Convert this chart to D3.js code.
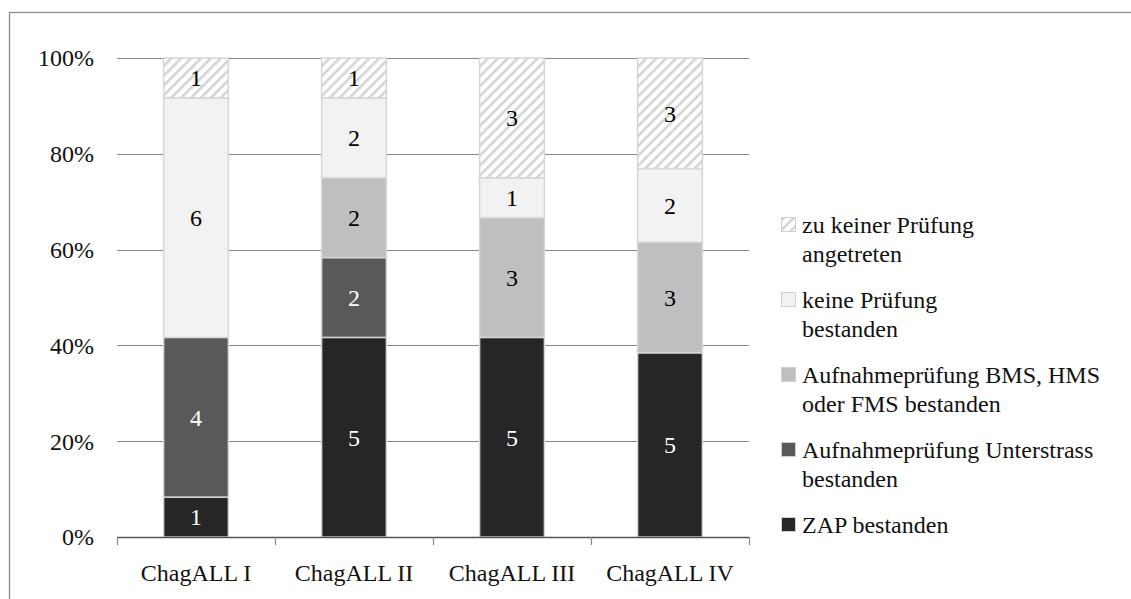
<!DOCTYPE html>
<html><head><meta charset="utf-8">
<script src="https://cdn.jsdelivr.net/npm/d3@7/dist/d3.min.js"></script>
<style>body{margin:0;background:#fff}svg{display:block}text{font-family:"Liberation Serif","Times New Roman",serif}</style>
</head><body><svg id="c" width="1131" height="599"></svg>
<script>
const categories = ["ChagALL I","ChagALL II","ChagALL III","ChagALL IV"];
const seriesNames = ["ZAP bestanden","Aufnahmeprüfung Unterstrass bestanden","Aufnahmeprüfung BMS, HMS oder FMS bestanden","keine Prüfung bestanden","zu keiner Prüfung angetreten"];
const zap = [1,5,5,5];
const unterstrass = [4,2,0,0];
const bms = [0,2,3,3];
const keine = [6,2,1,2];
const nichtAngetreten = [1,1,3,3];
const yTicks = [0,0.2,0.4,0.6,0.8,1];
const legendLines = [["zu keiner Prüfung","angetreten"],["keine Prüfung","bestanden"],["Aufnahmeprüfung BMS, HMS","oder FMS bestanden"],["Aufnahmeprüfung Unterstrass","bestanden"],["ZAP bestanden"]];

const colors = ["#262626","#595959","#bfbfbf","#f2f2f2","url(#hatch)"];
const labelColors = ["#fff","#fff","#000","#000","#000"];
const svg = d3.select("#c");
const defs = svg.append("defs");
const pat = defs.append("pattern").attr("id","hatch").attr("patternUnits","userSpaceOnUse")
  .attr("width",7).attr("height",7).attr("patternTransform","rotate(45)");
pat.append("rect").attr("width",7).attr("height",7).attr("fill","#fff");
pat.append("rect").attr("width",2.6).attr("height",7).attr("fill","#d4d4d4");

svg.append("rect").attr("x",9.5).attr("y",12.5).attr("width",1140).attr("height",600)
  .attr("fill","none").attr("stroke","#8a8a8a").attr("stroke-width",1.3);

const font = 24;
const x = d3.scaleBand().domain(categories).range([117,749]).paddingInner(0.59).paddingOuter(0.295);
const y = d3.scaleLinear().domain([0,1]).range([537,58]);

const rows = categories.map((c,i)=>({cat:c, v:[zap[i],unterstrass[i],bms[i],keine[i],nichtAngetreten[i]]}));
rows.forEach(r=>{r.total=d3.sum(r.v);});
const keys = [0,1,2,3,4];
const stack = d3.stack().keys(keys).value((d,k)=>d.v[k]/d.total);
const stacked = stack(rows);

// gridlines
svg.append("g").selectAll("line").data(yTicks.filter(t=>t>0)).join("line")
  .attr("x1",117).attr("x2",749).attr("y1",d=>Math.round(y(d))+0.5).attr("y2",d=>Math.round(y(d))+0.5)
  .attr("stroke","#868686").attr("stroke-width",1.2);

// y labels
svg.append("g").selectAll("text").data(yTicks).join("text")
  .attr("x",94).attr("y",d=>y(d)).attr("dy","0.35em").attr("text-anchor","end")
  .attr("font-size",font).attr("fill","#111").text(d=>d3.format(".0%")(d));

// bars
const g = svg.append("g");
stacked.forEach((s,k)=>{
  g.append("g").selectAll("rect").data(s.filter(d=>d[1]-d[0]>0)).join("rect")
    .attr("x",d=>x(d.data.cat)).attr("width",x.bandwidth())
    .attr("y",d=>y(d[1])).attr("height",d=>y(d[0])-y(d[1]))
    .attr("fill",colors[k]).attr("stroke","#d6d6d6").attr("stroke-width",1.5);
});
stacked.forEach((s,k)=>{
  g.append("g").selectAll("text").data(s.filter(d=>d[1]-d[0]>0)).join("text")
    .attr("x",d=>x(d.data.cat)+x.bandwidth()/2).attr("y",d=>y((d[0]+d[1])/2)).attr("dy","0.35em")
    .attr("text-anchor","middle").attr("font-size",font).attr("fill",labelColors[k])
    .text(d=>d.data.v[k]);
});

// x axis
const ax = svg.append("g").attr("transform","translate(0,537)");
ax.append("line").attr("x1",117).attr("x2",749).attr("y1",0.5).attr("y2",0.5).attr("stroke","#555").attr("stroke-width",1.3);
const step = (749-117)/categories.length;
ax.selectAll("line.t").data(d3.range(categories.length+1)).join("line").attr("class","t")
  .attr("x1",d=>Math.round(117+d*step)+0.5).attr("x2",d=>Math.round(117+d*step)+0.5)
  .attr("y1",0).attr("y2",8).attr("stroke","#888").attr("stroke-width",1.2);
ax.selectAll("text").data(categories).join("text")
  .attr("x",d=>x(d)+x.bandwidth()/2).attr("y",36).attr("dy","0.35em").attr("text-anchor","middle")
  .attr("font-size",font).attr("fill","#111").text(d=>d);

// legend (top-to-bottom: reverse series order)
const legendOrder = [4,3,2,1,0];
const lg = svg.append("g");
legendOrder.forEach((k,i)=>{
  const yy = 225 + i*75;
  lg.append("rect").attr("x",781.5).attr("y",yy-7.5).attr("width",14).attr("height",14)
    .attr("fill",colors[k]).attr("stroke","#d0d0d0").attr("stroke-width",1);
  legendLines[i].forEach((t,j)=>{
    lg.append("text").attr("x",802).attr("y",yy+j*28.5).attr("dy","0.35em")
      .attr("font-size",font).attr("fill","#111").text(t);
  });
});
</script></body></html>
